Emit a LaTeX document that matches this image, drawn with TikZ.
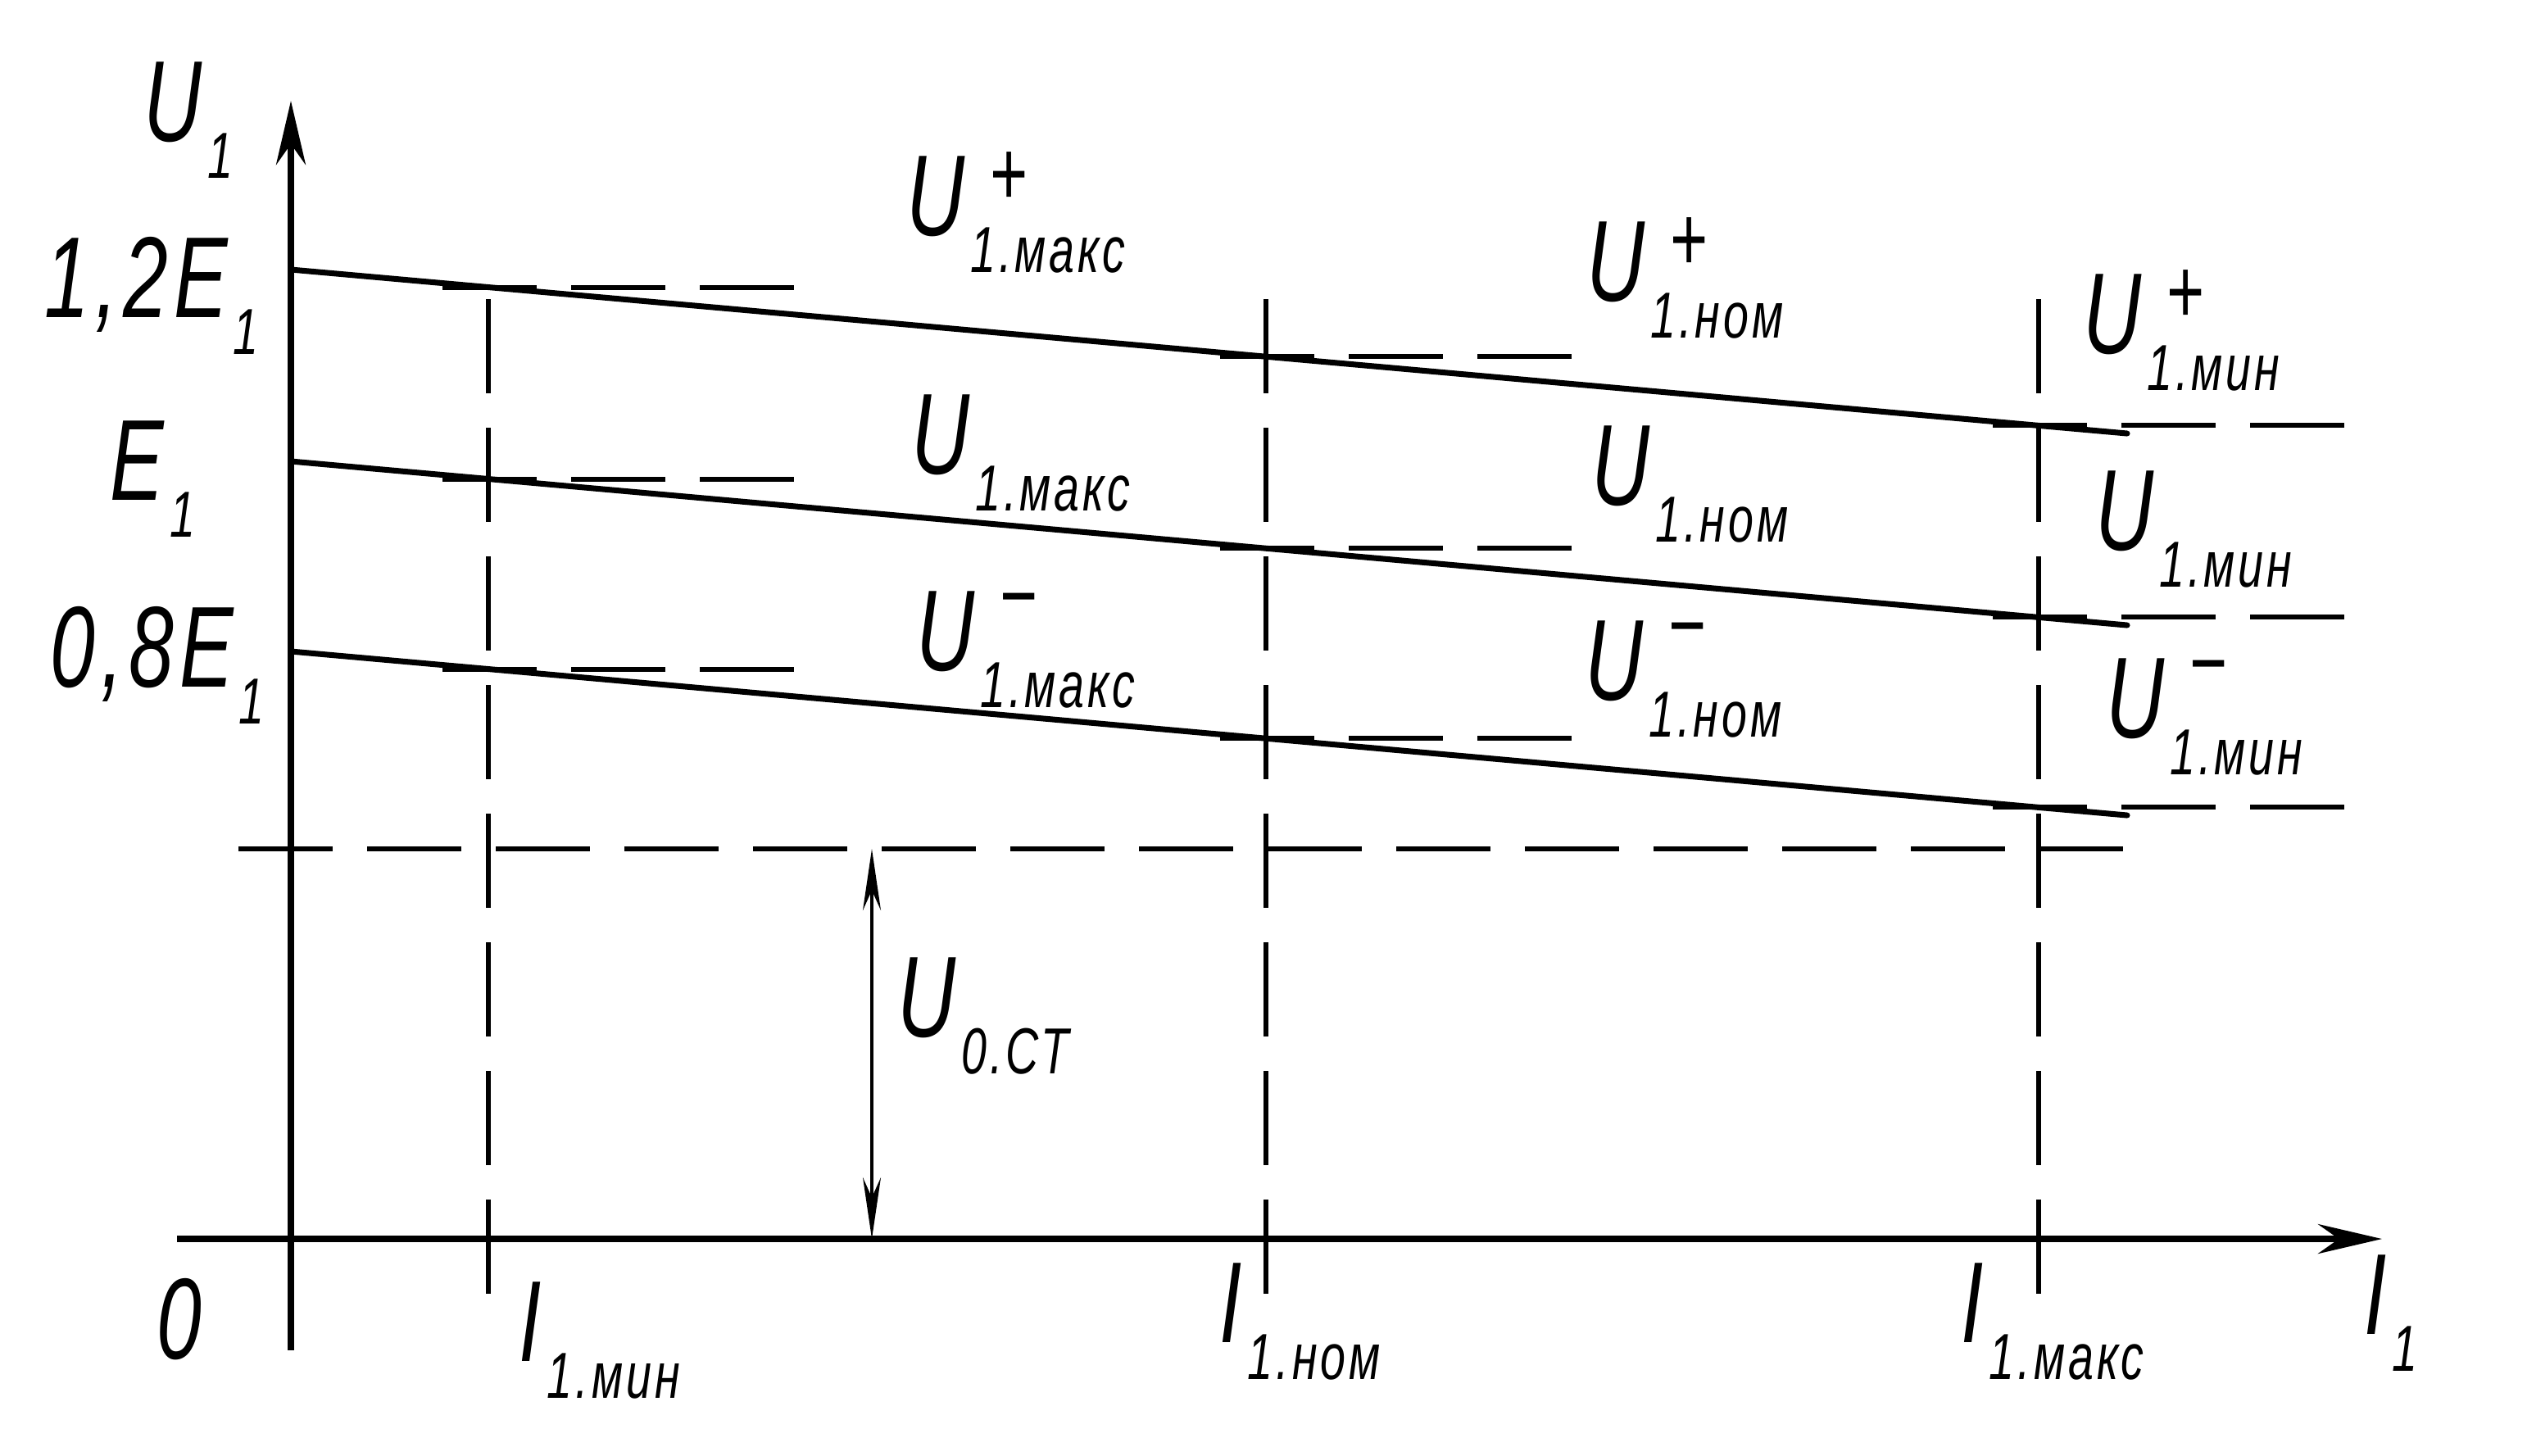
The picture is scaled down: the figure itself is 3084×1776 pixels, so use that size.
\documentclass[tikz,border=0pt]{standalone}
\usepackage{fontspec}
\setmainfont{Liberation Sans}[FakeStretch=0.7, LetterSpace=5]
\usepackage{tikz}
\usetikzlibrary{arrows.meta}
\newcommand{\idx}[3]{#1\kern1pt\makebox[0pt][l]{\kern3.3pt\raisebox{5.2pt}{\fontsize{16}{16}\selectfont #2}}\raisebox{-6.5pt}{\fontsize{11.3}{13}\selectfont #3}}
\newcommand{\mns}{\raisebox{2.3pt}{−}}

\begin{document}
\begin{tikzpicture}[x=0.05mm, y=-0.05mm,
  axis/.style={line width=0.4mm, -{Stealth[length=3.9mm, width=1.8mm]}},
  curve/.style={line width=0.35mm, line cap=round},
  guide/.style={line width=0.28mm, dash pattern=on 5.75mm off 2.1mm},
  dim/.style={line width=0.2mm, {Stealth[length=3.75mm, width=1.1mm]}-{Stealth[length=3.75mm, width=1.1mm]}},
  lbl/.style={anchor=base west, inner sep=0pt, font=\fontsize{20}{22}\selectfont\itshape}]
\useasboundingbox (0,0) rectangle (3084,1776);
\draw [axis] (355,1648) -- (355,123);
\draw [axis] (216,1512) -- (2907,1512);
\draw [curve] (355,329) -- (2596,529);
\draw [curve] (355,563) -- (2596,763);
\draw [curve] (355,795) -- (2596,995);
\foreach \x in {596,1545,2488}
  \draw [guide] (\x,365) -- (\x,1579);
\foreach \x/\y in {596/351,596/585,596/817,1545/435,1545/669,1545/901,2488/519,2488/753,2488/985}
  \draw [guide] ({\x-56},\y) -- ({\x+373},\y);
\draw [guide] (291,1036) -- (2591,1036);
\draw [dim] (1064,1036) -- (1064,1512);
\node [lbl] (u1) at (174,172) {\idx{U}{}{1}};
\node [lbl] (e12) at (53,387) {\idx{1,2E}{}{1}};
\node [lbl] (e1) at (133,610) {\idx{E}{}{1}};
\node [lbl] (e08) at (60,838) {\idx{0,8E}{}{1}};
\node [lbl] (umaxp) at (1105,287) {\idx{U}{+}{1.макс}};
\node [lbl] (umax) at (1111,578) {\idx{U}{}{1.макс}};
\node [lbl] (umaxm) at (1117,818) {\idx{U}{\mns}{1.макс}};
\node [lbl] (unomp) at (1935,367) {\idx{U}{+}{1.ном}};
\node [lbl] (unom) at (1941,616) {\idx{U}{}{1.ном}};
\node [lbl] (unomm) at (1933,854) {\idx{U}{\mns}{1.ном}};
\node [lbl] (uminp) at (2541,431) {\idx{U}{+}{1.мин}};
\node [lbl] (umin) at (2556,671) {\idx{U}{}{1.мин}};
\node [lbl] (uminm) at (2569,900) {\idx{U}{\mns}{1.мин}};
\node [lbl] (uost) at (1094,1265) {\idx{U}{}{0.СТ}};
\node [lbl] (o) at (190,1658) {0};
\node [lbl] (imin) at (632,1661) {\idx{I}{}{1.мин}};
\node [lbl] (inom) at (1487,1638) {\idx{I}{}{1.ном}};
\node [lbl] (imax) at (2392,1638) {\idx{I}{}{1.макс}};
\node [lbl] (i1) at (2884,1628) {\idx{I}{}{1}};
\end{tikzpicture}
\end{document}
